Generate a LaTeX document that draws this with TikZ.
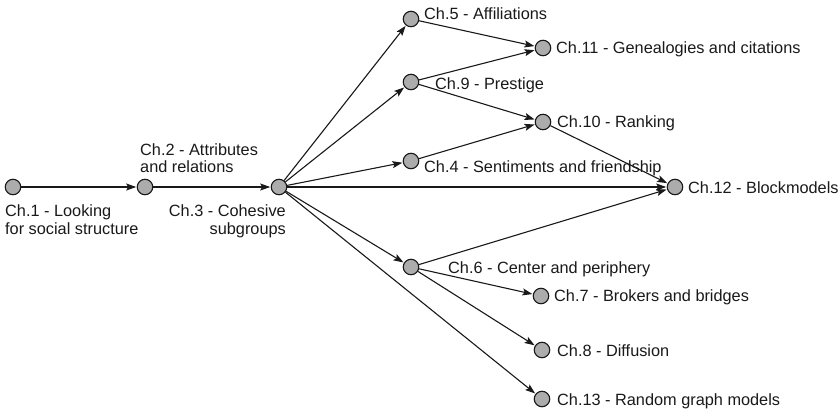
\documentclass[tikz,border=0pt]{standalone}
\usepackage{fontspec}
\setmainfont{Liberation Sans}
\usetikzlibrary{arrows.meta}
\definecolor{nodegray}{RGB}{172,172,172}
\definecolor{edgeblack}{RGB}{25,25,25}
\tikzset{
  chnode/.style={circle,draw=edgeblack,fill=nodegray,line width=1.1pt,minimum size=15.5pt,inner sep=0pt},
  chlabel/.style={inner sep=0pt,font=\fontsize{16.3}{18}\selectfont,text=edgeblack},
  conn/.style={draw=edgeblack,line width=1.1pt,-{Stealth[length=10pt,width=7pt,inset=2pt]},shorten >=0.5pt}
}
\begin{document}
\begin{tikzpicture}[x=1pt,y=-1pt]
\useasboundingbox (0,0) rectangle (839,412);
\node[chnode] (c1) at (13,187) {};
\node[chnode] (c2) at (145,187) {};
\node[chnode] (c3) at (279,187) {};
\node[chnode] (c5) at (411,19) {};
\node[chnode] (c11) at (543,48) {};
\node[chnode] (c9) at (411,82) {};
\node[chnode] (c10) at (543,122) {};
\node[chnode] (c4) at (411,161) {};
\node[chnode] (c12) at (675,187) {};
\node[chnode] (c6) at (411,267) {};
\node[chnode] (c7) at (541,296) {};
\node[chnode] (c8) at (542,350) {};
\node[chnode] (c13) at (542,399) {};

\node[chlabel,anchor=base west] (l1a) at (5,216) {Ch.1 - Looking};
\node[chlabel,anchor=base west] (l1b) at (5,234) {for social structure};
\node[chlabel,anchor=base west] (l2a) at (140,155) {Ch.2 - Attributes};
\node[chlabel,anchor=base west] (l2b) at (140,172) {and relations};
\node[chlabel,anchor=base east] (l3a) at (286,216) {Ch.3 - Cohesive};
\node[chlabel,anchor=base east] (l3b) at (286,234) {subgroups};
\node[chlabel,anchor=base west] (l5) at (424,20) {Ch.5 - Affiliations};
\node[chlabel,anchor=base west] (l11) at (556,54) {Ch.11 - Genealogies and citations};
\node[chlabel,anchor=base west] (l9) at (435,89) {Ch.9 - Prestige};
\node[chlabel,anchor=base west] (l10) at (557,128) {Ch.10 - Ranking};
\node[chlabel,anchor=base west] (l4) at (424,172) {Ch.4 - Sentiments and friendship};
\node[chlabel,anchor=base west] (l12) at (688,193) {Ch.12 - Blockmodels};
\node[chlabel,anchor=base west] (l6) at (448,273) {Ch.6 - Center and periphery};
\node[chlabel,anchor=base west] (l7) at (554,301) {Ch.7 - Brokers and bridges};
\node[chlabel,anchor=base west] (l8) at (557,356) {Ch.8 - Diffusion};
\node[chlabel,anchor=base west] (l13) at (557,405) {Ch.13 - Random graph models};

\draw[conn] (c1) -- (c2);
\draw[conn] (c2) -- (c3);
\draw[conn] (c3) -- (c5);
\draw[conn] (c3) -- (c9);
\draw[conn] (c3) -- (c4);
\draw[conn] (c3) -- (c12);
\draw[conn] (c3) -- (c6);
\draw[conn] (c3) -- (c13);
\draw[conn] (c5) -- (c11);
\draw[conn] (c9) -- (c11);
\draw[conn] (c9) -- (c10);
\draw[conn] (c4) -- (c10);
\draw[conn] (c10) -- (c12);
\draw[conn] (c6) -- (c12);
\draw[conn] (c6) -- (c7);
\draw[conn] (c6) -- (c8);
\end{tikzpicture}
\end{document}
